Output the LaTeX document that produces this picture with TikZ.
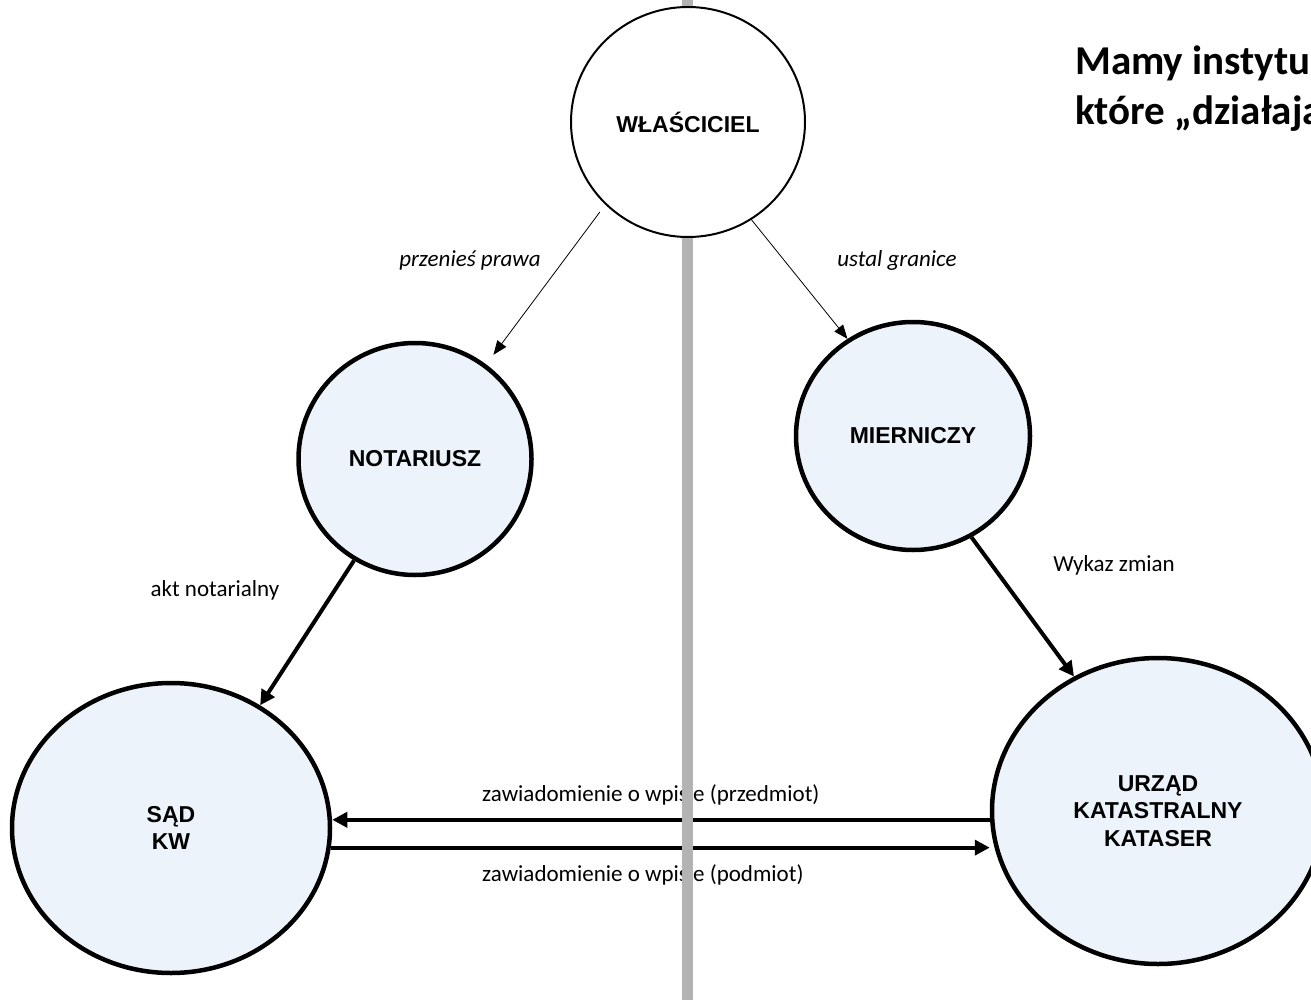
\documentclass[tikz,border=0pt]{standalone}
\usepackage{fontspec}
\newfontfamily\arialf{Liberation Sans}
\newfontfamily\calib{Carlito}
\usetikzlibrary{arrows.meta,shapes.geometric}
\definecolor{nodefill}{HTML}{EDF3FA}
\definecolor{divider}{HTML}{B3B3B3}
\pgfdeclarelayer{back}
\pgfdeclarelayer{mid}
\pgfsetlayers{back,mid,main}
\begin{document}
\begin{tikzpicture}[x=1pt,y=-1pt,
  base/.style={ellipse, inner sep=0pt, align=center, font=\arialf\bfseries\fontsize{23}{27.5}\selectfont},
  owner/.style={base, draw, line width=2pt, fill=white},
  agent/.style={base, draw, line width=4.5pt, fill=nodefill},
  thinarrow/.style={line width=0.8pt, -{Triangle[length=14pt,width=11pt]}},
  thickarrow/.style={line width=4pt, -{Triangle[length=15pt,width=15pt]}},
  lab/.style={font=\calib\fontsize{23}{27}\selectfont, inner sep=0pt},
  ilab/.style={lab, font=\calib\itshape\fontsize{23}{27}\selectfont},
  ttl/.style={anchor=base west, inner sep=0pt, font=\calib\bfseries\fontsize{41}{46}\selectfont},
]
\useasboundingbox (0,0) rectangle (1311,1000);
\clip (0,0) rectangle (1311,1000);

% nodes
\node[owner, minimum width=234pt, minimum height=230pt] (w) at (688,122) {WŁAŚCICIEL};
\node[agent, minimum width=233pt, minimum height=232pt] (n) at (415,459) {NOTARIUSZ};
\node[agent, minimum width=234pt, minimum height=228pt] (m) at (913,436) {MIERNICZY};
\node[agent, minimum width=318pt, minimum height=290pt] (s) at (171,828) {SĄD\\KW};
\node[agent, minimum width=332pt, minimum height=306pt] (u) at (1158,811) {URZĄD\\KATASTRALNY\\KATASER};

% title (cut off at the right edge, as in the reference)
\node[ttl] (t1) at (1075,75) {Mamy instytucje};
\node[ttl] (t2) at (1075,125) {które „działają”};

% divider line
\begin{pgfonlayer}{mid}
\coordinate (dtop) at (687.5,0);
\coordinate (dbot) at (687.5,1000);
\draw[divider, line width=11pt] (dtop) -- (dbot);
\end{pgfonlayer}

% connectors and labels
\begin{pgfonlayer}{back}
\draw[thinarrow, shorten <=9pt, shorten >=12pt] (w.225.6) -- (n.53.2);
\draw[thinarrow] (w.303.6) -- (m.124.8);
\draw[thickarrow] (n.239.3) -- (s.54.3);
\draw[thickarrow] (m.300) -- (u.122.3);
\draw[thickarrow] (u.183.5) -- (u.183.5 -| s.east);
\draw[thickarrow] (s.-7.6) -- (s.-7.6 -| u.west);

\node[ilab] (lp) at (470,260) {przenieś prawa};
\node[ilab] (lg) at (897,260) {ustal granice};
\node[lab] (la) at (215,590) {akt notarialny};
\node[lab] (lw) at (1114,565) {Wykaz zmian};
\node[lab, anchor=west] (lz1) at (482,795) {zawiadomienie o wpisie (przedmiot)};
\node[lab, anchor=west] (lz2) at (482,875) {zawiadomienie o wpisie (podmiot)};
\end{pgfonlayer}
\end{tikzpicture}
\end{document}
